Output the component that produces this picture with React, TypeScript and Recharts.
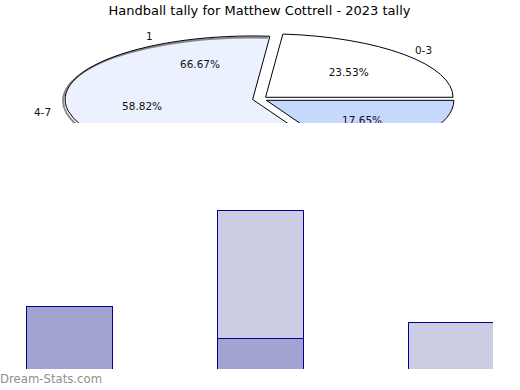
import { Bar, BarChart, Pie, PieChart, XAxis, YAxis } from "recharts";

// categories and the two stacked series (light on top of dark)
const categories = ["0-3", "4-7", "8+"];
const darkSeries = [4, 2, 0];
const lightSeries = [0, 8, 3];
// names used by the second (overlapping) pie
const secondPieNames = ["1", "2"];

const sliceColors = ["#FFFFFF", "#EBF1FE", "#C6D9FD"];
const DARK = "#A3A3D1";
const LIGHT = "#CCCCE5";
const EDGE = "#000099";
const FONT = "DejaVu Sans";

const barData = categories.map((c, i) => ({ category: c, dark: darkSeries[i], light: lightSeries[i] }));
const pieA = categories.map((c, i) => ({ name: c, value: darkSeries[i] + lightSeries[i] }));
const pieB = darkSeries
  .filter((v) => v > 0)
  .map((v, i) => ({ name: secondPieNames[i], value: v }));

const CX = 260;
const CY = 99;
const RX = 187.5;
const SQUASH = 63.5 / 187.5;
const EXPLODE = 7.5;
const SHADOW_SLICE = 1;

const rad = (a: number) => (a * Math.PI) / 180;

function centre(cx: number, cy: number, mid: number) {
  return [cx + EXPLODE * Math.cos(rad(mid)), cy - EXPLODE * SQUASH * Math.sin(rad(mid))];
}

function onEllipse(x: number, y: number, rx: number, ry: number, a: number) {
  return [x + rx * Math.cos(rad(a)), y - ry * Math.sin(rad(a))];
}

// elliptical slice drawn from the angles recharts computed
function SliceShape(props: any) {
  const { cx, cy, outerRadius, startAngle, endAngle, midAngle, index } = props;
  const ry = outerRadius * SQUASH;
  const [x, y] = centre(cx, cy, midAngle);
  const [x0, y0] = onEllipse(x, y, outerRadius, ry, startAngle);
  const [x1, y1] = onEllipse(x, y, outerRadius, ry, endAngle);
  const large = Math.abs(endAngle - startAngle) > 180 ? 1 : 0;
  const d = `M ${x} ${y} L ${x0} ${y0} A ${outerRadius} ${ry} 0 ${large} 0 ${x1} ${y1} Z`;
  const shadow = `M ${x0 - 2} ${y0 + 1.5} A ${outerRadius} ${ry} 0 ${large} 0 ${x1 - 2} ${y1 + 1.5}`;
  return (
    <g>
      <path d={d} fill={sliceColors[index % sliceColors.length]} stroke="none" />
      {index === SHADOW_SLICE && <path d={shadow} fill="none" stroke="#888" strokeWidth={2} />}
      <path d={d} fill="none" stroke="#000" strokeWidth={1} />
    </g>
  );
}

function SliceText(props: any) {
  const { cx, cy, outerRadius, midAngle, name, percent } = props;
  const ry = outerRadius * SQUASH;
  const [x, y] = centre(cx, cy, midAngle);
  const [px, py] = onEllipse(x, y, outerRadius * 0.6, ry * 0.6, midAngle);
  const [nx, ny] = onEllipse(x, y, outerRadius * 1.14, ry * 1.1, midAngle);
  return (
    <g fontFamily={FONT} fontSize={10.5} fill="#111">
      <text x={px} y={py} textAnchor="middle" dominantBaseline="central">
        {(percent * 100).toFixed(2)}%
      </text>
      <text x={nx} y={ny} textAnchor="middle" dominantBaseline="central">
        {name}
      </text>
    </g>
  );
}

export default function App() {
  return (
    <div style={{ position: "absolute", left: 0, top: 0, width: 520, height: 390, background: "#fff" }}>
      <style>{`.bars .recharts-rectangle { shape-rendering: crispEdges; }`}</style>
      <svg width={520} height={390} style={{ position: "absolute", left: 0, top: 0 }}>
        <text x={259.5} y={14.5} textAnchor="middle" fontFamily={FONT} fontSize={13} fill="#000">
          Handball tally for Matthew Cottrell - 2023 tally
        </text>
        <text x={0} y={383} fontFamily={FONT} fontSize={11.7} fill="#8f8f8f">
          Dream-Stats.com
        </text>
      </svg>

      <div style={{ position: "absolute", left: 0, top: 0, width: 520, height: 123, overflow: "hidden" }}>
        <PieChart width={520} height={123} margin={{ top: 0, right: 0, bottom: 0, left: 0 }}>
          <Pie
            data={pieA}
            dataKey="value"
            nameKey="name"
            cx={CX}
            cy={CY}
            outerRadius={RX}
            fill="none"
            stroke="none"
            label={SliceShape}
            labelLine={false}
            isAnimationActive={false}
          />
          <Pie
            data={pieA}
            dataKey="value"
            nameKey="name"
            cx={CX}
            cy={CY}
            outerRadius={RX}
            fill="none"
            stroke="none"
            label={SliceText}
            labelLine={false}
            isAnimationActive={false}
          />
          <Pie
            data={pieB}
            dataKey="value"
            nameKey="name"
            cx={CX}
            cy={CY}
            outerRadius={RX}
            fill="none"
            stroke="none"
            label={SliceText}
            labelLine={false}
            isAnimationActive={false}
          />
        </PieChart>
      </div>

      <div className="bars" style={{ position: "absolute", left: 0, top: 0, width: 493, height: 369, overflow: "hidden" }}>
        <div style={{ position: "absolute", left: -27, top: 178 }}>
          <BarChart width={573} height={192} data={barData} margin={{ top: 0, right: 0, bottom: 0, left: 0 }} barSize={86}>
            <XAxis dataKey="category" hide />
            <YAxis hide domain={[0, 12]} />
            <Bar dataKey="dark" stackId="a" fill={DARK} stroke={EDGE} isAnimationActive={false} />
            <Bar dataKey="light" stackId="a" fill={LIGHT} stroke={EDGE} isAnimationActive={false} />
          </BarChart>
        </div>
      </div>
    </div>
  );
}
